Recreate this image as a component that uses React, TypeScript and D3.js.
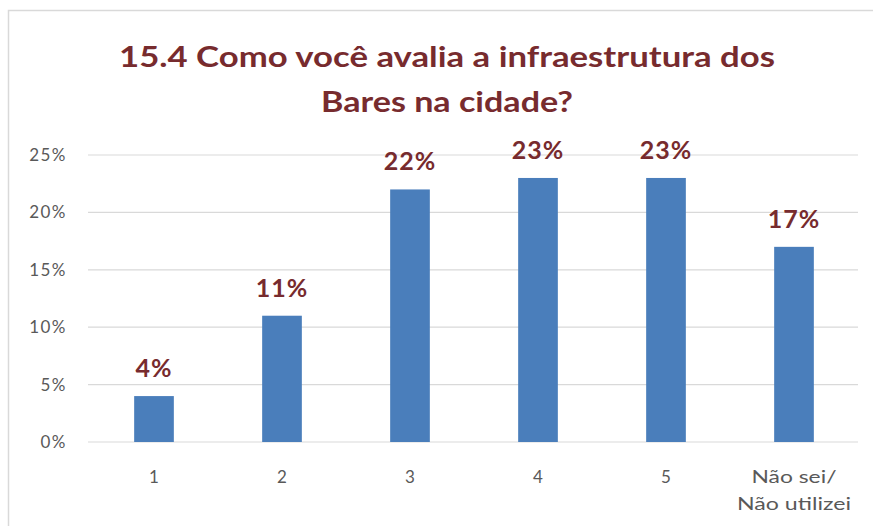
import React from "react";
import * as d3 from "d3";

const categories: string[][] = [["1"], ["2"], ["3"], ["4"], ["5"], ["Não sei/", "Não utilizei"]];
const values: number[] = [4, 11, 22, 23, 23, 17];
const yTicks: number[] = [0, 5, 10, 15, 20, 25];
const titleLines: string[] = ["15.4 Como você avalia a infraestrutura dos", "Bares na cidade?"];

const W = 873;
const H = 526;
const FONT = "Lato, 'Open Sans', sans-serif";
const titleWidths = [656, 252];
const catWidths: Record<string, number> = { "Não sei/": 85, "Não utilizei": 114 };

export default function App() {
  const x = d3
    .scaleBand<number>()
    .domain(d3.range(categories.length))
    .range([90, 858])
    .paddingInner(0.69)
    .paddingOuter(0.345);
  const y = d3.scaleLinear().domain([0, 25]).range([442, 155]);

  return (
    <svg
      width={W}
      height={H}
      style={{ position: "absolute", left: 0, top: 0, background: "#fff" }}
    >
      <rect x={8.5} y={10.5} width={880} height={540} fill="#fff" stroke="#d9d9d9" strokeWidth={1.5} />
      {titleLines.map((t, i) => (
        <text
          key={i}
          x={447}
          y={67 + i * 45}
          textAnchor="middle"
          fontFamily={FONT}
          fontWeight={700}
          fontSize={29}
          fill="#772b2e"
          textLength={titleWidths[i]}
          lengthAdjust="spacingAndGlyphs"
        >
          {t}
        </text>
      ))}
      {yTicks.map((t) => (
        <g key={t}>
          <line x1={88} x2={858} y1={y(t)} y2={y(t)} stroke="#d9d9d9" strokeWidth={1.2} />
          <text
            x={67}
            y={y(t) + 6}
            textAnchor="end"
            fontFamily={FONT}
            fontSize={17}
            letterSpacing={1.5}
            fill="#595959"
          >
            {t}%
          </text>
        </g>
      ))}
      {values.map((v, i) => (
        <g key={i}>
          <rect x={x(i)} y={y(v)} width={x.bandwidth()} height={y(0) - y(v)} fill="#4a7ebb" />
          <text
            x={(x(i) as number) + x.bandwidth() / 2}
            y={y(v) - 19}
            textAnchor="middle"
            fontFamily={FONT}
            fontWeight={700}
            fontSize={25}
            letterSpacing={1}
            fill="#772b2e"
          >
            {v}%
          </text>
          {categories[i].map((c, j) => (
            <text
              key={j}
              x={(x(i) as number) + x.bandwidth() / 2}
              y={483 + j * 27}
              textAnchor="middle"
              fontFamily={FONT}
              fontSize={17}
              fill="#595959"
              textLength={catWidths[c]}
              lengthAdjust={catWidths[c] ? "spacingAndGlyphs" : undefined}
            >
              {c}
            </text>
          ))}
        </g>
      ))}
    </svg>
  );
}
